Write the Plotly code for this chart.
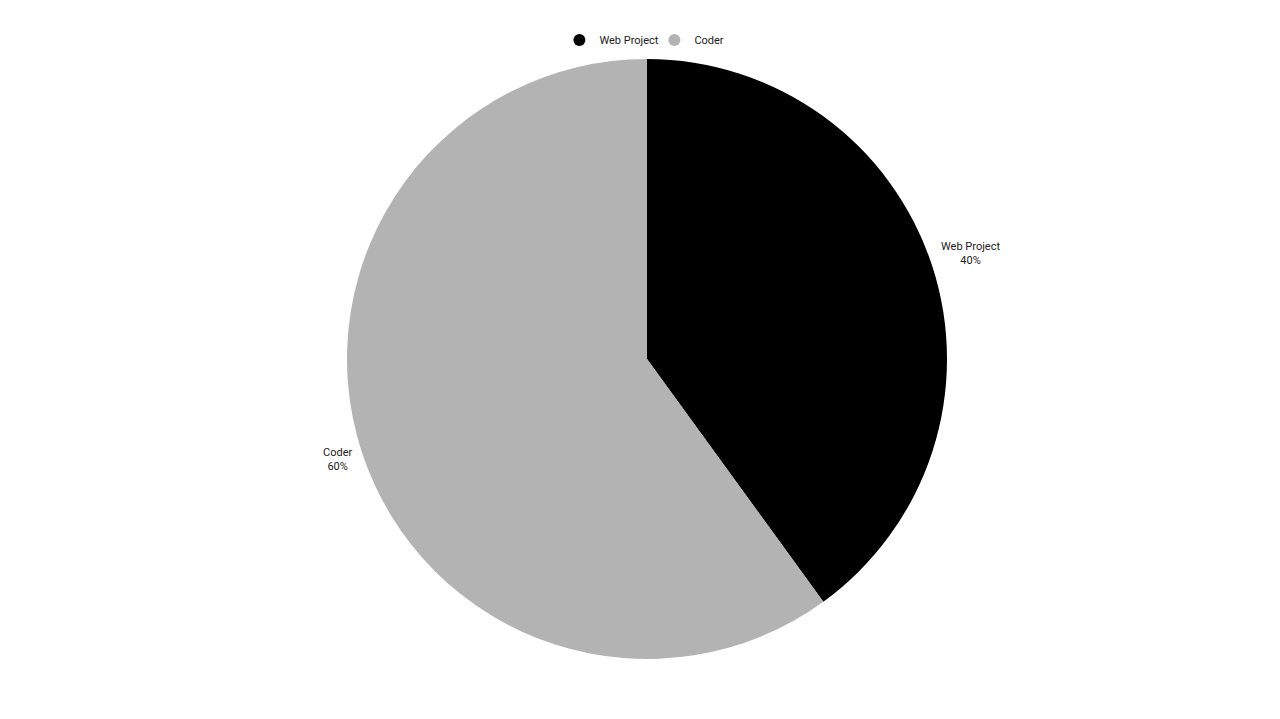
import numpy as np
import plotly.graph_objects as go

labels = ["Web Project", "Coder"]
values = [40, 60]
colors = ["#000000", "#b3b3b3"]

W, H = 1280, 719
M = dict(t=51, b=68, l=86, r=88)
plot_w = W - M["l"] - M["r"]
plot_h = H - M["t"] - M["b"]
radius = min(plot_w, plot_h) / 2

fig = go.Figure()

fig.add_trace(go.Pie(
    labels=labels,
    values=values,
    sort=False,
    direction="clockwise",
    rotation=0,
    marker=dict(colors=colors, line=dict(width=0)),
    textinfo="none",
    showlegend=False,
    hoverinfo="label+percent",
    domain=dict(x=[0, 1], y=[0, 1]),
))

# outside labels: placed at each slice's mid angle, just outside the rim
total = sum(values)
start = 0.0
for name, val in zip(labels, values):
    mid = 2 * np.pi * (start + val / 2) / total
    start += val
    half_w = 2.65 * len(name)
    half_h = 14
    r_lab = radius + 8 + half_w * abs(np.sin(mid)) + half_h * abs(np.cos(mid))
    dx = r_lab * np.sin(mid) / plot_w
    dy = r_lab * np.cos(mid) / plot_h
    fig.add_annotation(
        x=0.5 + dx, y=0.5 + dy, xref="paper", yref="paper",
        text=f"{name}<br>{round(100 * val / total)}%",
        showarrow=False, xanchor="center", yanchor="middle",
        font=dict(size=11, color="#222222"),
    )

# legend entries with round markers
for name, col in zip(labels, colors):
    fig.add_trace(go.Scatter(
        x=[None], y=[None], mode="markers", name=name,
        marker=dict(size=11, color=col, symbol="circle"),
    ))

fig.update_layout(
    width=W, height=H,
    margin=dict(**M, autoexpand=False),
    paper_bgcolor="white",
    plot_bgcolor="white",
    font=dict(family="Roboto, Arial, sans-serif", size=11, color="#222222"),
    showlegend=True,
    legend=dict(orientation="h", x=0.505, xanchor="center", xref="container",
                y=0.9555, yanchor="middle", yref="container", entrywidth=50,
                font=dict(size=11), itemsizing="constant", traceorder="normal"),
    xaxis=dict(visible=False),
    yaxis=dict(visible=False),
)

fig.write_html("out.html")
